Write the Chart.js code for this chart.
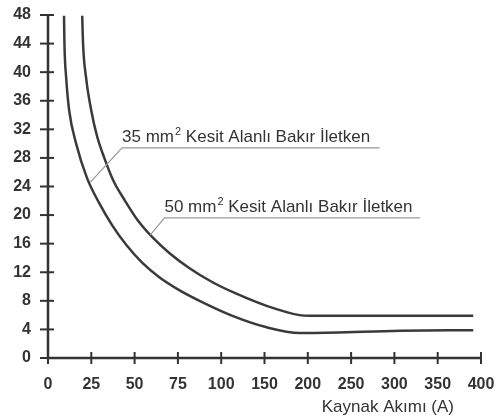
<!DOCTYPE html>
<html>
<head>
<meta charset="utf-8">
<script src="https://cdn.jsdelivr.net/npm/chart.js@4"></script>
<style>
  html, body { margin: 0; padding: 0; background: #fff; }
  #wrap { width: 499px; height: 418px; position: relative; }
</style>
</head>
<body>
<div id="wrap"><canvas id="chart"></canvas></div>
<script>
// x axis is drawn at even spacing, so positions are tick indexes
const tickLabels = ['0', '25', '50', '75', '100', '150', '200', '250', '300', '350', '400'];
const yTicks = [0, 4, 8, 12, 16, 20, 24, 28, 32, 36, 40, 44, 48];

// 35 mm2 conductor (inner curve)
const x35 = [0.37, 0.38, 0.42, 0.49, 0.65, 0.90, 1.18, 1.48, 1.81, 2.18, 2.57, 3.03, 3.50, 4.26, 5.05, 5.81, 6.04, 8.13, 9.82];
const y35 = [47.9, 43.9, 39.2, 34.6, 30.0, 25.2, 21.7, 18.6, 15.8, 13.3, 11.3, 9.5, 8.0, 5.9, 4.3, 3.5, 3.5, 3.8, 3.9];

// 50 mm2 conductor (outer curve)
const x50 = [0.79, 0.81, 0.88, 1.00, 1.13, 1.30, 1.51, 1.78, 2.08, 2.41, 2.80, 3.26, 3.80, 4.35, 5.05, 5.81, 6.04, 9.82];
const y50 = [47.9, 43.9, 39.2, 34.6, 31.1, 28.0, 24.8, 22.0, 19.2, 16.9, 14.7, 12.6, 10.6, 9.0, 7.3, 6.0, 5.9, 5.9];

const label35 = '35 mm|2| Kesit Alanlı Bakır İletken';
const label50 = '50 mm|2| Kesit Alanlı Bakır İletken';
const axisTitle = 'Kaynak Akımı (A)';

const ink = '#333333';

function toPoints(xs, ys) {
    return xs.map((x, i) => ({ x: x, y: ys[i] }));
}

// axes with crossing ticks, annotations with leader lines
const decorPlugin = {
    id: 'decor',
    afterDatasetsDraw(chart) {
        const ctx = chart.ctx;
        const xs = chart.scales.x;
        const ys = chart.scales.y;
        const x0 = xs.getPixelForValue(0);
        const y0 = ys.getPixelForValue(0);
        ctx.save();
        ctx.strokeStyle = ink;
        ctx.lineWidth = 2.5;
        ctx.beginPath();
        ctx.moveTo(x0, ys.getPixelForValue(48));
        ctx.lineTo(x0, y0);
        ctx.lineTo(xs.getPixelForValue(10), y0);
        ctx.stroke();
        ctx.lineWidth = 2;
        yTicks.forEach(v => {
            const py = ys.getPixelForValue(v);
            ctx.beginPath();
            ctx.moveTo(x0 - 8, py);
            ctx.lineTo(x0 + 6, py);
            ctx.stroke();
        });
        tickLabels.forEach((t, i) => {
            const px = xs.getPixelForValue(i);
            ctx.beginPath();
            ctx.moveTo(px, y0 - 6);
            ctx.lineTo(px, y0 + 6);
            ctx.stroke();
        });

        // annotations
        const notes = [
            { text: label35, ax: 1.71, ay: 29.4, ex: 7.66, lx: 0.98, ly: 24.6 },
            { text: label50, ax: 2.69, ay: 19.6, ex: 8.59, lx: 2.36, ly: 17.2 }
        ];
        notes.forEach(n => {
            const px = xs.getPixelForValue(n.ax);
            const py = ys.getPixelForValue(n.ay);
            ctx.strokeStyle = '#9a9a9a';
            ctx.lineWidth = 1.2;
            ctx.beginPath();
            ctx.moveTo(xs.getPixelForValue(n.lx), ys.getPixelForValue(n.ly));
            ctx.lineTo(px, py);
            ctx.lineTo(xs.getPixelForValue(n.ex), py);
            ctx.stroke();
            const parts = n.text.split('|');
            let cx = px;
            ctx.fillStyle = ink;
            ctx.textBaseline = 'alphabetic';
            ctx.textAlign = 'left';
            parts.forEach((p, i) => {
                if (i === 1) {
                    ctx.font = '11px "Liberation Sans", Arial, sans-serif';
                    ctx.fillText(p, cx + 1, py - 13);
                    cx += ctx.measureText(p).width + 1;
                } else {
                    ctx.font = '17px "Liberation Sans", Arial, sans-serif';
                    ctx.fillText(p, cx, py - 6);
                    cx += ctx.measureText(p).width;
                }
            });
        });

        ctx.font = '17px "Liberation Sans", Arial, sans-serif';
        ctx.textAlign = 'right';
        ctx.textBaseline = 'middle';
        ctx.fillText(axisTitle, 454, 407);
        ctx.restore();
    }
};

const lineStyle = {
    borderColor: '#3a3a3a',
    borderWidth: 2.5,
    pointRadius: 0,
    fill: false,
    cubicInterpolationMode: 'monotone'
};

new Chart(document.getElementById('chart').getContext('2d'), {
    type: 'line',
    data: {
        datasets: [
            Object.assign({ label: '35 mm2', data: toPoints(x35, y35) }, lineStyle),
            Object.assign({ label: '50 mm2', data: toPoints(x50, y50) }, lineStyle)
        ]
    },
    options: {
        responsive: true,
        maintainAspectRatio: false,
        animation: false,
        layout: { padding: { top: 15, right: 18, left: 0, bottom: 0 } },
        plugins: {
            legend: { display: false },
            tooltip: { enabled: false }
        },
        scales: {
            x: {
                type: 'linear',
                min: 0,
                max: 10,
                grid: { display: false, drawTicks: false },
                border: { display: false },
                afterFit: s => { s.height = 60; s.paddingLeft = 0; s.paddingRight = 0; },
                ticks: {
                    stepSize: 1,
                    autoSkip: false,
                    maxRotation: 0,
                    padding: 17,
                    color: ink,
                    font: { family: '"Liberation Sans", Arial, sans-serif', size: 16, weight: 'bold' },
                    callback: v => tickLabels[v]
                }
            },
            y: {
                min: 0,
                max: 48,
                grid: { display: false, drawTicks: false },
                border: { display: false },
                afterFit: s => { s.width = 48; s.paddingTop = 0; s.paddingBottom = 0; },
                ticks: {
                    stepSize: 4,
                    padding: 17,
                    color: ink,
                    font: { family: '"Liberation Sans", Arial, sans-serif', size: 16, weight: 'bold' }
                }
            }
        }
    },
    plugins: [decorPlugin]
});
</script>
</body>
</html>
